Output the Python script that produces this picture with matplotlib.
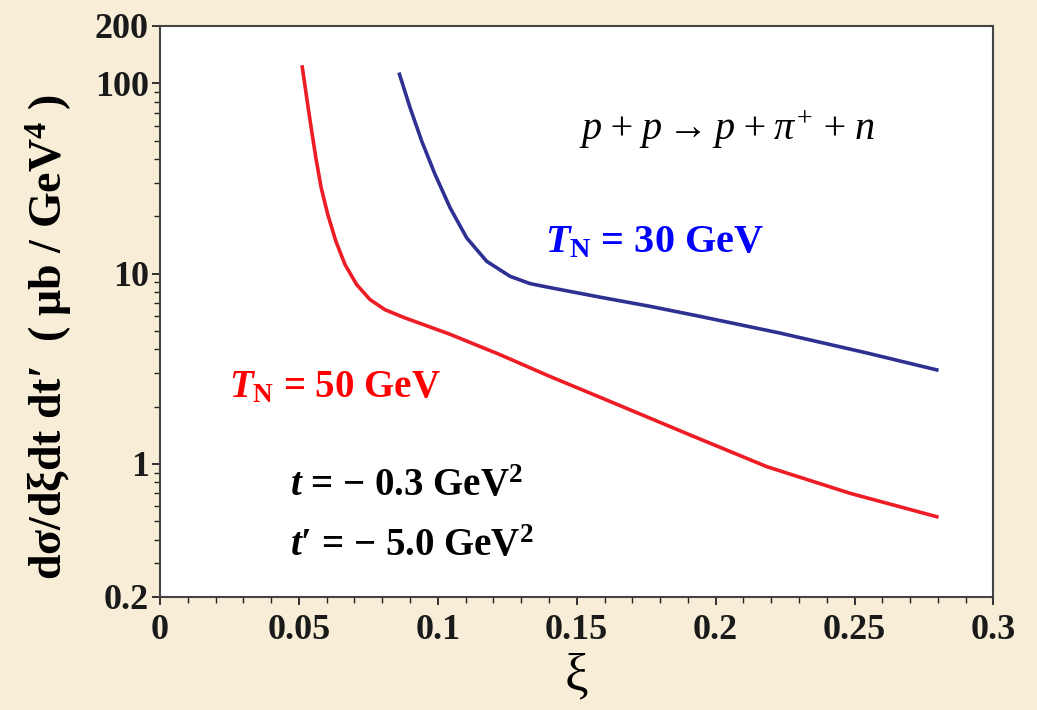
import numpy as np
import matplotlib
matplotlib.use('Agg')
import matplotlib.pyplot as plt
from matplotlib.ticker import MultipleLocator, LogLocator, NullFormatter

# curve values (xi, dsigma)
xi_50 = [0.0512, 0.0528, 0.0544, 0.0561, 0.0580, 0.0604, 0.0633, 0.0666, 0.0708, 0.0756,
         0.0810, 0.0882, 0.1044, 0.1224, 0.1404, 0.1584, 0.1908, 0.2184, 0.2484, 0.2796]
ds_50 = [121.8, 84.1, 58.5, 40.6, 28.3, 20.4, 14.8, 11.15, 8.75, 7.30,
         6.46, 5.85, 4.80, 3.75, 2.88, 2.24, 1.42, 0.968, 0.701, 0.528]

xi_30 = [0.0862, 0.0900, 0.0942, 0.0990, 0.1044, 0.1104, 0.1176, 0.1260,
         0.1332, 0.1404, 0.1584, 0.1764, 0.1944, 0.2232, 0.2544, 0.2796]
ds_30 = [111.5, 74.5, 49.7, 33.2, 22.2, 15.4, 11.6, 9.68,
         8.86, 8.44, 7.52, 6.73, 5.96, 4.87, 3.83, 3.12]

y_ticks = [0.2, 1, 10, 100, 200]
y_tick_labels = ['0.2', '1', '10', '100', '200']
x_ticks = [0, 0.05, 0.1, 0.15, 0.2, 0.25, 0.3]
x_tick_labels = ['0', '0.05', '0.1', '0.15', '0.2', '0.25', '0.3']

plt.rcParams['font.family'] = ['Liberation Serif', 'DejaVu Serif']
plt.rcParams['mathtext.fontset'] = 'custom'
plt.rcParams['mathtext.rm'] = 'Liberation Serif:bold'
plt.rcParams['mathtext.it'] = 'Liberation Serif:italic:bold'
plt.rcParams['mathtext.bf'] = 'Liberation Serif:bold'
plt.rcParams['mathtext.sf'] = 'Liberation Serif:italic'

fig = plt.figure(figsize=(10.37, 7.10), dpi=100)
fig.patch.set_facecolor('#f8eed7')
ax = fig.add_axes([0.1543, 0.1592, 0.8037, 0.8042])
ax.set_facecolor('white')

ax.plot(xi_50, ds_50, color='#ee1c24', lw=2.6, solid_joinstyle='round')
ax.plot(xi_30, ds_30, color='#2e3192', lw=2.6, solid_joinstyle='round')

ax.set_yscale('log')
ax.set_xlim(0, 0.3)
ax.set_ylim(0.2, 200)
ax.set_yticks(y_ticks)
ax.set_yticklabels(y_tick_labels)
ax.yaxis.set_minor_locator(LogLocator(base=10, subs=np.arange(2, 10)))
ax.yaxis.set_minor_formatter(NullFormatter())
ax.set_xticks(x_ticks)
ax.set_xticklabels(x_tick_labels)
ax.xaxis.set_minor_locator(MultipleLocator(0.01))

for lab in ax.get_xticklabels() + ax.get_yticklabels():
    lab.set_fontweight('bold')
    lab.set_fontsize(26)
ax.tick_params(which='major', direction='out', length=6, width=1.3, colors='#222222', pad=2)
ax.tick_params(which='minor', direction='out', length=4, width=1.0, colors='#222222')
ax.tick_params(axis='x', pad=6)
ax.tick_params(labelcolor='#1a1a1a')
for s in ax.spines.values():
    s.set_linewidth(1.5)
    s.set_color('#444444')

ax.set_xlabel('ξ', fontsize=38, labelpad=4)
ax.set_ylabel("dσ/dξdt dt′  ( μb / GeV$^{4}$ )", fontsize=33, fontweight='bold')
ax.yaxis.set_label_coords(-0.103, 0.455)

ax.text(0.68, 0.818, r'$\mathsf{p + p \rightarrow p + \pi^{+} + n}$', transform=ax.transAxes,
        fontsize=29, ha='center', va='center', color='black')
ax.text(0.593, 0.62, r'$T_{\mathrm{N}}$ = 30 GeV', transform=ax.transAxes,
        fontsize=29, fontweight='bold', ha='center', va='center', color='#0000ff')
ax.text(0.21, 0.366, r'$T_{\mathrm{N}}$ = 50 GeV', transform=ax.transAxes,
        fontsize=28, fontweight='bold', ha='center', va='center', color='#ff0000')
ax.text(0.156, 0.193, r'$t$ = $-$ 0.3 GeV$^{2}$', transform=ax.transAxes,
        fontsize=28, fontweight='bold', ha='left', va='center', color='black')
ax.text(0.156, 0.088, r"$t$′ = $-$ 5.0 GeV$^{2}$", transform=ax.transAxes,
        fontsize=28, fontweight='bold', ha='left', va='center', color='black')

fig.savefig('out.png', dpi=100, facecolor=fig.get_facecolor())
